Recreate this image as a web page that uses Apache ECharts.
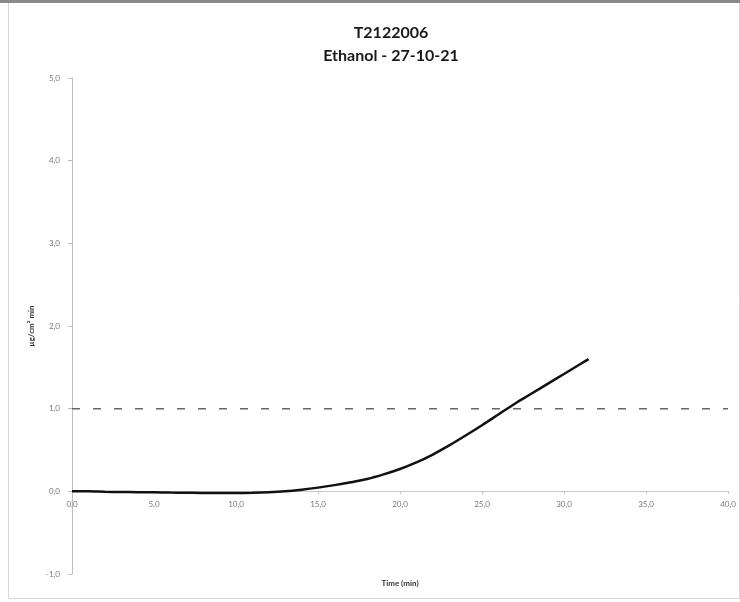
<!DOCTYPE html>
<html>
<head>
<meta charset="utf-8">
<script src="https://cdn.jsdelivr.net/npm/echarts@6/dist/echarts.min.js"></script>
<style>
  html, body { margin: 0; padding: 0; background: #fff; }
  #chart { width: 740px; height: 602px; }
</style>
</head>
<body>
<div id="chart"></div>
<script>
// time (min) of each sample
const times = [0, 1, 2, 3, 4, 5, 6, 7, 8, 9, 10, 11, 12, 13, 14, 15, 16, 17, 18, 19,
  20, 21, 22, 23, 24, 25, 26, 27, 28, 29, 30, 31, 31.5];
// flux µg/cm² min
const flux = [0, 0, -0.005, -0.008, -0.01, -0.012, -0.015, -0.017, -0.02, -0.02, -0.02,
  -0.018, -0.012, 0.0, 0.02, 0.045, 0.075, 0.11, 0.15, 0.205, 0.27, 0.35, 0.445, 0.555,
  0.675, 0.8, 0.93, 1.06, 1.18, 1.3, 1.42, 1.54, 1.6];
// limit line
const limitX = [0, 40];
const limitY = [1, 1];

const titleText = "T2122006\nEthanol - 27-10-21";

var chart = echarts.init(document.getElementById("chart"));

// format with decimal comma
function comma(v) {
  return v.toFixed(1).replace(".", ",");
}

const option = {
  backgroundColor: "#fff",
  animation: false,
  title: {
    text: titleText,
    left: 386,
    top: 16,
    textAlign: "center",
    textStyle: {
      fontFamily: "Lato",
      fontWeight: "bold",
      fontSize: 16,
      lineHeight: 23,
      color: "#1a1a1a",
    },
  },
  graphic: [
    {
      // chart frame
      type: "rect",
      shape: { x: 8.5, y: 2.5, width: 731, height: 596 },
      style: { fill: "none", stroke: "#d6d6d6", lineWidth: 1 },
      silent: true,
    },
    {
      type: "rect",
      shape: { x: 0, y: 0, width: 740, height: 3 },
      style: { fill: "#8a8a8a" },
      silent: true,
    },
  ],
  grid: {
    left: 72,
    right: 12,
    top: 78,
    bottom: 28,
    containLabel: false,
    outerBoundsMode: "none",
  },
  xAxis: {
    type: "value",
    min: 0,
    max: 40,
    interval: 5,
    position: "bottom",
    offset: -83, // sit the axis on y = 0
    name: "Time (min)",
    nameLocation: "middle",
    nameGap: 88,
    nameTextStyle: {
      fontFamily: "Lato",
      fontWeight: "bold",
      fontSize: 8,
      color: "#333",
    },
    axisLine: {
      onZero: false,
      lineStyle: { color: "#c8c8c8", width: 1 },
    },
    axisTick: { show: true, length: 3, lineStyle: { color: "#c8c8c8" } },
    splitLine: { show: false },
    axisLabel: {
      fontFamily: "Lato",
      fontSize: 8,
      color: "#777",
      margin: 9,
      formatter: comma,
    },
  },
  yAxis: {
    type: "value",
    min: -1,
    max: 5,
    interval: 1,
    name: "µg/cm² min",
    nameLocation: "middle",
    nameGap: 36,
    nameRotate: 90,
    nameTextStyle: {
      fontFamily: "Lato",
      fontWeight: "bold",
      fontSize: 8,
      color: "#333",
    },
    axisLine: {
      show: true,
      lineStyle: { color: "#bdbdbd", width: 1 },
    },
    axisTick: { show: true, length: 4, lineStyle: { color: "#bdbdbd" } },
    splitLine: { show: false },
    axisLabel: {
      fontFamily: "Lato",
      fontSize: 8,
      color: "#777",
      margin: 12,
      formatter: comma,
    },
  },
  series: [
    {
      name: "limit",
      type: "line",
      symbol: "none",
      data: limitX.map((x, i) => [x, limitY[i]]),
      lineStyle: { color: "#666", width: 1.5, type: [8, 13] },
      z: 1,
    },
    {
      name: "flux",
      type: "line",
      symbol: "none",
      smooth: 0.3,
      data: times.map((t, i) => [t, flux[i]]),
      lineStyle: { color: "#111", width: 2.5 },
      z: 2,
    },
  ],
};

chart.setOption(option);
</script>
</body>
</html>
